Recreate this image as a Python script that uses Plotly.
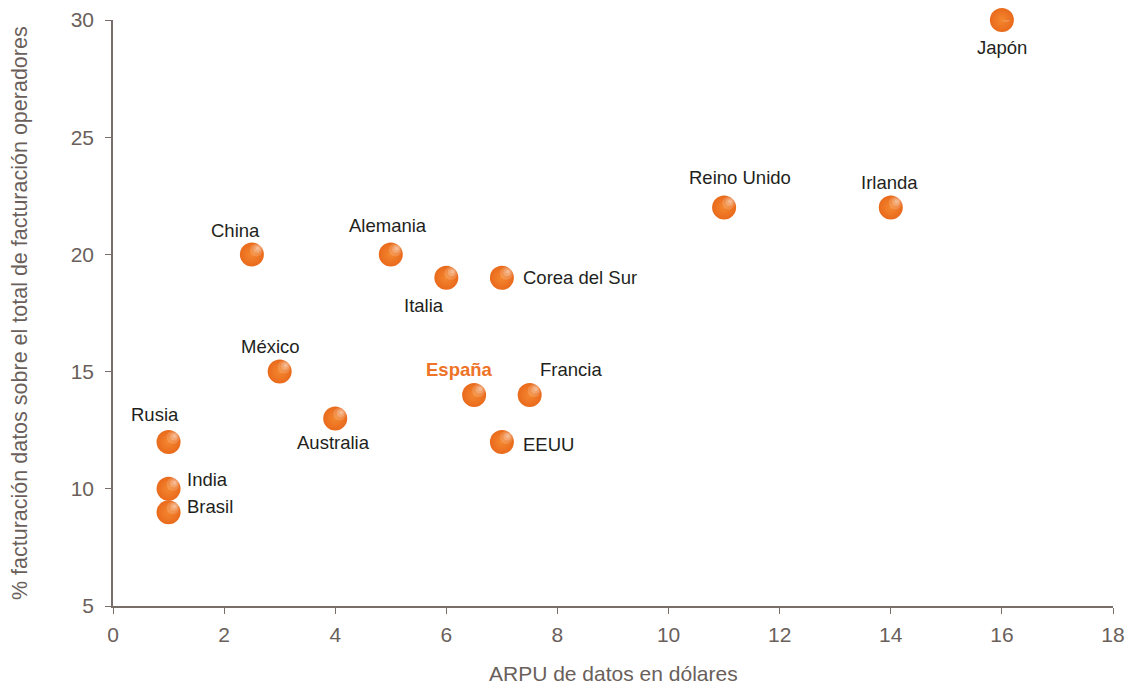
import plotly.graph_objects as go

# Datos por país: ARPU de datos (USD) y % de facturación por datos
paises = ["Japón", "Reino Unido", "Irlanda", "China", "Alemania", "Italia",
          "Corea del Sur", "México", "España", "Francia", "Australia",
          "EEUU", "Rusia", "India", "Brasil"]
arpu = [16, 11, 14, 2.5, 5, 6, 7, 3, 6.5, 7.5, 4, 7, 1, 1, 1]
pct_datos = [30, 22, 22, 20, 20, 19, 19, 15, 14, 14, 13, 12, 12, 10, 9]

x_ticks = list(range(0, 19, 2))
y_ticks = list(range(5, 31, 5))

# Colocación de cada etiqueta respecto a su punto (anclaje, desplazamiento px)
etiqueta_pos = {
    "Japón": ("center", 0, -27),
    "Reino Unido": ("center", 16, 30),
    "Irlanda": ("center", -1, 25),
    "China": ("center", -16, 24),
    "Alemania": ("center", -3, 29),
    "Italia": ("center", -22, -28),
    "Corea del Sur": ("left", 19, 0),
    "México": ("center", -9, 25),
    "España": ("center", -15, 26),
    "Francia": ("center", 41, 26),
    "Australia": ("center", -2, -24),
    "EEUU": ("left", 19, -3),
    "Rusia": ("center", -14, 27),
    "India": ("left", 16, 9),
    "Brasil": ("left", 16, 6),
}

naranja = "#ee7326"
eje = "#7a6e6a"
texto_ticks = "#6a5f5b"
fuente = "Liberation Sans, Arial, sans-serif"

fig = go.Figure()

# Esferas: naranja con leve degradado radial hacia el borde
fig.add_trace(go.Scatter(
    x=arpu, y=pct_datos, mode="markers", cliponaxis=False,
    marker=dict(size=24, color="#e96a1c",
                gradient=dict(type="radial", color="#f4872f"),
                line=dict(width=0)),
    hoverinfo="skip", showlegend=False,
))

# Brillo desplazado arriba a la derecha de cada esfera (en píxeles)
for x, y in zip(arpu, pct_datos):
    for (c, r, op) in [(4.5, 6.5, 0.16), (5.5, 4.0, 0.22), (6.0, 2.0, 0.25)]:
        fig.add_shape(
            type="circle", xref="x", yref="y",
            xsizemode="pixel", ysizemode="pixel", xanchor=x, yanchor=y,
            x0=c - r, x1=c + r, y0=c - r, y1=c + r,
            fillcolor=f"rgba(255,255,255,{op})", line=dict(width=0),
            layer="above",
        )

for p, x, y in zip(paises, arpu, pct_datos):
    anc, dx, dy = etiqueta_pos[p]
    es_esp = p == "España"
    fig.add_annotation(
        x=x, y=y, text=f"<b>{p}</b>" if es_esp else p,
        showarrow=False, xanchor=anc, yanchor="middle",
        xshift=dx, yshift=dy,
        font=dict(family=fuente, size=18.5,
                  color=naranja if es_esp else "#231f20"),
    )

# Títulos de los ejes
fig.add_annotation(
    text="ARPU de datos en dólares", xref="paper", yref="paper",
    x=0.5, y=0, xanchor="center", yanchor="middle", yshift=-67,
    showarrow=False, font=dict(family=fuente, size=21, color=texto_ticks),
)
fig.add_annotation(
    text="% facturación datos sobre el total de facturación operadores",
    xref="paper", yref="paper", x=0, y=0.5, xanchor="center", yanchor="middle",
    xshift=-93, textangle=-90,
    showarrow=False, font=dict(family=fuente, size=21.5, color=texto_ticks),
)

fig.update_layout(
    width=1127, height=684,
    margin=dict(l=113, r=14, t=20, b=78, autoexpand=False),
    paper_bgcolor="white", plot_bgcolor="white",
    font=dict(family=fuente),
    xaxis=dict(
        range=[0, 18], tickmode="array", tickvals=x_ticks, automargin=False,
        showgrid=False, zeroline=False, showline=True, linecolor=eje, linewidth=1.5,
        ticks="outside", ticklen=6, tickcolor=eje, tickwidth=1,
        ticklabelstandoff=3,
        tickfont=dict(size=21, color=texto_ticks, family=fuente),
    ),
    yaxis=dict(
        range=[5, 30], tickmode="array", tickvals=y_ticks, automargin=False,
        showgrid=False, zeroline=False, showline=True, linecolor=eje, linewidth=1.5,
        ticks="outside", ticklen=6, tickcolor=eje, tickwidth=1,
        ticklabelstandoff=7,
        tickfont=dict(size=21, color=texto_ticks, family=fuente),
    ),
)

fig.write_html("out.html")
